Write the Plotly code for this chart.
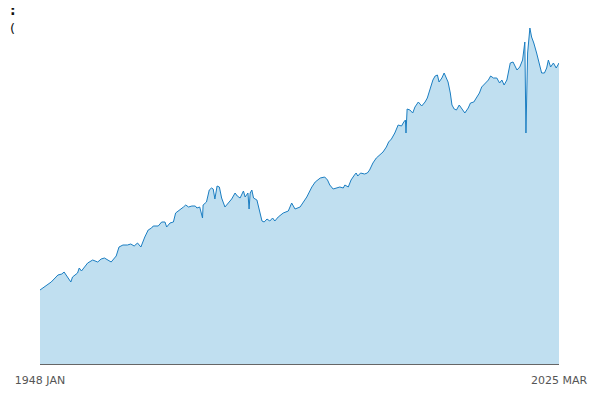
import plotly.graph_objects as go

# monthly readings (YYYY-MM) and index level
dates = [
    "1948-01", "1948-12", "1949-09", "1950-09", "1951-04", "1951-08", "1952-02", "1952-08",
    "1952-11", "1953-08", "1953-11", "1954-03", "1955-02", "1955-11", "1956-08", "1957-02",
    "1957-08", "1958-02", "1958-08", "1959-05", "1959-10", "1960-05", "1961-01", "1961-07",
    "1962-01", "1962-07", "1963-01", "1963-08", "1964-02", "1964-08", "1964-11", "1965-08",
    "1966-02", "1966-08", "1966-11", "1967-05", "1967-11", "1968-03", "1968-11", "1969-05",
    "1969-09", "1970-02", "1970-08", "1971-02", "1971-05", "1971-10", "1972-03", "1972-04",
    "1972-10", "1973-03", "1973-07", "1973-10", "1974-01", "1974-05", "1974-09", "1975-01",
    "1975-07", "1976-01", "1976-07", "1977-01", "1977-05", "1977-10", "1978-04", "1978-07",
    "1978-12", "1979-02", "1979-04", "1979-07", "1979-10", "1980-04", "1980-10", "1981-01",
    "1981-05", "1981-10", "1982-03", "1982-08", "1982-12", "1983-06", "1984-03", "1984-12",
    "1985-06", "1985-12", "1986-09", "1987-03", "1987-09", "1988-06", "1988-12", "1989-09",
    "1990-05", "1990-10", "1991-02", "1991-08", "1992-02", "1992-08", "1993-02", "1993-05",
    "1993-11", "1994-04", "1994-10", "1995-01", "1995-04", "1995-09", "1996-04", "1996-09",
    "1997-01", "1997-07", "1998-01", "1998-07", "1999-01", "1999-07", "1999-11", "2000-04",
    "2000-10", "2001-04", "2001-10", "2002-02", "2002-05", "2002-06", "2002-08", "2003-01",
    "2003-06", "2003-10", "2004-04", "2004-10", "2005-04", "2005-08", "2006-01", "2006-06",
    "2006-10", "2007-02", "2007-05", "2007-10", "2008-02", "2008-05", "2008-09", "2009-01",
    "2009-04", "2009-08", "2009-12", "2010-05", "2010-09", "2011-03", "2011-09", "2012-01",
    "2012-07", "2012-12", "2013-05", "2013-09", "2014-03", "2014-09", "2015-01", "2015-06",
    "2015-12", "2016-05", "2016-09", "2017-01", "2017-06", "2017-10", "2017-12", "2018-05",
    "2018-12", "2019-05", "2019-10", "2020-02", "2020-04", "2020-07", "2020-11", "2021-02",
    "2021-06", "2021-11", "2022-04", "2022-08", "2023-01", "2023-05", "2023-08", "2023-12",
    "2024-05", "2024-10", "2025-03",
]
values = [
    74, 78, 82, 89, 90, 92, 87, 82,
    87, 91, 96, 93, 101, 104, 102, 105,
    106, 104, 102, 108, 117, 119, 119, 120,
    118, 121, 117, 127, 134, 136, 138, 138,
    142, 142, 137, 141, 142, 151, 154, 157,
    159, 157, 158, 158, 156, 157, 146, 159,
    162, 174, 176, 175, 165, 178, 177, 166,
    157, 161, 165, 171, 168, 166, 173, 167,
    171, 155, 171, 174, 166, 164, 151, 143,
    142, 145, 143, 146, 143, 147, 151, 153,
    161, 155, 157, 162, 167, 177, 182, 186,
    187, 184, 179, 175, 176, 177, 176, 179,
    177, 184, 189, 191, 188, 191, 190, 191,
    194, 201, 206, 209, 212, 217, 222, 225,
    231, 239, 238, 242, 244, 231, 255, 254,
    251, 257, 262, 258, 262, 266, 274, 284,
    288, 289, 282, 286, 291, 287, 282, 271,
    259, 255, 254, 259, 256, 251, 256, 261,
    262, 266, 271, 277, 281, 284, 288, 286,
    286, 281, 284, 279, 284, 294, 301, 302,
    294, 297, 304, 322, 231, 311, 336, 327,
    321, 311, 301, 291, 291, 296, 304, 297,
    301, 296, 301,
]
end_ticks = ["1948-01-01", "2025-03-01"]
end_labels = ["1948 JAN", "2025 MAR"]

fig = go.Figure()

fig.add_scatter(
    x=[d + "-01" for d in dates],
    y=values,
    mode="lines",
    line=dict(color="#1b7ec2", width=1),
    fill="tozeroy",
    fillcolor="#c0dff0",
    hoverinfo="x+y",
)

# title text is cut off at the left edge in the original
fig.add_annotation(
    text="<b>:</b>", x=-32 / 519, y=1.041, xref="paper", yref="paper",
    xanchor="left", yanchor="middle", showarrow=False,
    font=dict(size=14, color="#111"),
)
fig.add_annotation(
    text="(", x=-32 / 519, y=0.988, xref="paper", yref="paper",
    xanchor="left", yanchor="middle", showarrow=False,
    font=dict(size=13, color="#111"),
)

fig.update_layout(
    width=600, height=400,
    margin=dict(l=32, r=49, t=16, b=44),
    paper_bgcolor="white",
    plot_bgcolor="white",
    showlegend=False,
    font=dict(family="DejaVu Sans", size=11, color="#555"),
    xaxis=dict(
        type="date",
        range=end_ticks,
        tickvals=end_ticks,
        ticktext=end_labels,
        showgrid=False,
        zeroline=False,
        showline=True,
        linecolor="#666",
        linewidth=1,
        ticks="",
        ticklabelstandoff=6,
        automargin=False,
    ),
    yaxis=dict(
        range=[0, 340],
        visible=False,
        showgrid=False,
        zeroline=False,
        automargin=False,
    ),
)

fig.write_html("out.html")
